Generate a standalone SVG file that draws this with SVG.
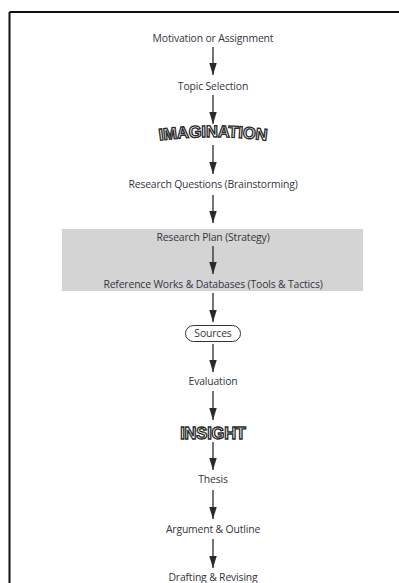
<svg xmlns="http://www.w3.org/2000/svg" width="399" height="583" viewBox="0 0 399 583">
<style>
.t{font-family:"Open Sans","Liberation Sans",sans-serif;font-size:10.4px;fill:#34343f;text-anchor:middle;letter-spacing:-0.15px}
.o{font-family:"Liberation Sans",Arial,sans-serif;font-weight:bold;fill:#fff;stroke:#2a2a2a;stroke-width:1.3;text-anchor:middle;letter-spacing:-0.2px}
</style>
<defs>
<marker id="a2" markerWidth="13" markerHeight="8" refX="12" refY="3.75" orient="auto" markerUnits="userSpaceOnUse">
<path d="M0,0 L12,3.75 L0,7.5 Z" fill="#2a2a2a"/>
</marker>
<path id="arc1" d="M150,142 Q213,132 276,142"/>
</defs>
<rect width="399" height="583" fill="#fff"/>
<g id="frame">
<line x1="9.5" y1="12" x2="399" y2="12" stroke="#111" stroke-width="2"/>
<line x1="9.5" y1="12" x2="9.5" y2="583" stroke="#111" stroke-width="2"/>
</g>
<g id="shade"><rect x="62" y="229" width="301" height="62" fill="#d4d4d5"/></g>
<g id="connectors" stroke="#2a2a2a" stroke-width="1.3" fill="none">
<line x1="213" y1="47" x2="213" y2="75" marker-end="url(#a2)"/>
<line x1="213" y1="95" x2="213" y2="124" marker-end="url(#a2)"/>
<line x1="213" y1="145" x2="213" y2="174" marker-end="url(#a2)"/>
<line x1="213" y1="195" x2="213" y2="223" marker-end="url(#a2)"/>
<line x1="213" y1="246" x2="213" y2="274" marker-end="url(#a2)"/>
<line x1="213" y1="293" x2="213" y2="322" marker-end="url(#a2)"/>
<line x1="213" y1="344" x2="213" y2="372" marker-end="url(#a2)"/>
<line x1="213" y1="391" x2="213" y2="420" marker-end="url(#a2)"/>
<line x1="213" y1="442" x2="213" y2="470" marker-end="url(#a2)"/>
<line x1="213" y1="490" x2="213" y2="519" marker-end="url(#a2)"/>
<line x1="213" y1="539" x2="213" y2="568" marker-end="url(#a2)"/>
</g>
<g id="n1"><text class="t" x="213" y="42">Motivation or Assignment</text></g>
<g id="n2"><text class="t" x="213" y="90">Topic Selection</text></g>
<g id="n3"><text class="o" font-size="16.5"><textPath href="#arc1" startOffset="50%">IMAGINATION</textPath></text></g>
<g id="n4"><text class="t" x="213" y="188">Research Questions (Brainstorming)</text></g>
<g id="n5"><text class="t" x="213" y="241">Research Plan (Strategy)</text></g>
<g id="n6"><text class="t" x="213" y="288">Reference Works &amp; Databases (Tools &amp; Tactics)</text></g>
<g id="n7"><rect x="185.5" y="325.5" width="55" height="16" rx="8" fill="#fff" stroke="#333" stroke-width="1"/><text class="t" x="213" y="337">Sources</text></g>
<g id="n8"><text class="t" x="213" y="385">Evaluation</text></g>
<g id="n9"><text class="o" font-size="16.5" x="213" y="439">INSIGHT</text></g>
<g id="n10"><text class="t" x="213" y="483">Thesis</text></g>
<g id="n11"><text class="t" x="213" y="533">Argument &amp; Outline</text></g>
<g id="n12"><text class="t" x="213" y="581">Drafting &amp; Revising</text></g>
</svg>
